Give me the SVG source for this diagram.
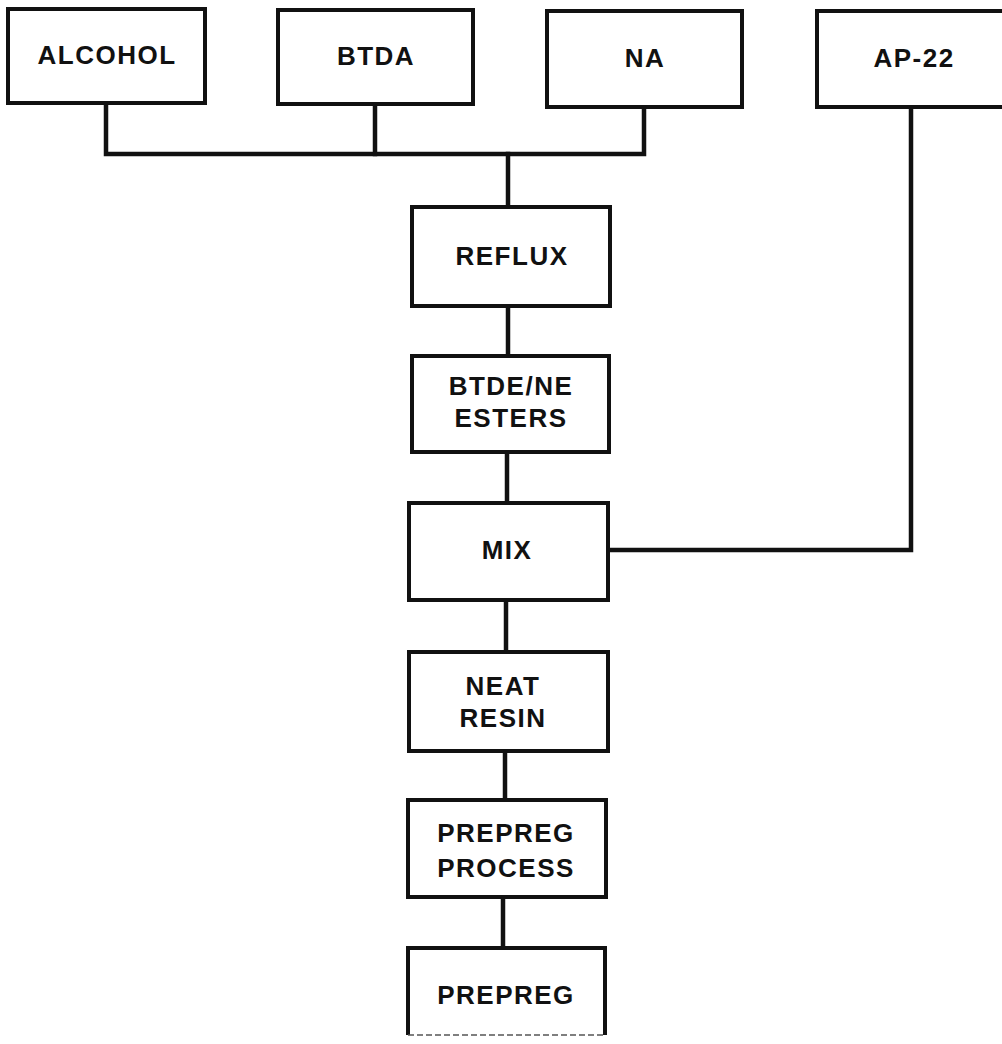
<svg xmlns="http://www.w3.org/2000/svg" width="1002" height="1044" viewBox="0 0 1002 1044">
<style>
.box{fill:#fff;stroke:#111;stroke-width:4}
.t{font-family:"Liberation Sans",Arial,Helvetica,sans-serif;font-weight:bold;font-size:26px;letter-spacing:1.5px;fill:#111;text-anchor:middle}
.c{fill:none;stroke:#111;stroke-width:4.5;stroke-linejoin:miter;stroke-linecap:square}
</style>
<rect width="1002" height="1044" fill="#fff"/>
<g id="connectors">
<path class="c" d="M106 103 V154 H644 V107"/>
<path class="c" d="M375 104 V154"/>
<path class="c" d="M508 154 V207"/>
<path class="c" d="M508 306 V356"/>
<path class="c" d="M507 452 V503"/>
<path class="c" d="M911 107 V550 H608"/>
<path class="c" d="M506 600 V652"/>
<path class="c" d="M505 751 V800"/>
<path class="c" d="M503 897 V948"/>
</g>
<g id="alcohol"><rect class="box" x="8" y="9" width="197" height="94"/><text class="t" x="107" y="64">ALCOHOL</text></g>
<g id="btda"><rect class="box" x="278" y="10" width="195" height="94"/><text class="t" x="376" y="65">BTDA</text></g>
<g id="na"><rect class="box" x="547" y="11" width="195" height="96"/><text class="t" x="645" y="67">NA</text></g>
<g id="ap22"><rect class="box" x="817" y="11" width="200" height="96"/><text class="t" x="914" y="67">AP-22</text></g>
<g id="reflux"><rect class="box" x="412" y="207" width="198" height="99"/><text class="t" x="512" y="265">REFLUX</text></g>
<g id="esters"><rect class="box" x="412" y="356" width="197" height="96"/><text class="t" x="511" y="395">BTDE/NE</text><text class="t" x="511" y="427">ESTERS</text></g>
<g id="mix"><rect class="box" x="409" y="503" width="199" height="97"/><text class="t" x="507" y="559">MIX</text></g>
<g id="neat"><rect class="box" x="409" y="652" width="199" height="99"/><text class="t" x="503" y="695">NEAT</text><text class="t" x="503" y="727">RESIN</text></g>
<g id="prepregprocess"><rect class="box" x="408" y="800" width="198" height="97"/><text class="t" x="506" y="842">PREPREG</text><text class="t" x="506" y="877">PROCESS</text></g>
<g id="prepreg"><path class="box" d="M408 1035 V948 H605 V1035" fill="#fff"/><line x1="408" y1="1035" x2="605" y2="1035" stroke="#555" stroke-width="1.5" stroke-dasharray="6 3"/><text class="t" x="506" y="1004">PREPREG</text></g>
</svg>
